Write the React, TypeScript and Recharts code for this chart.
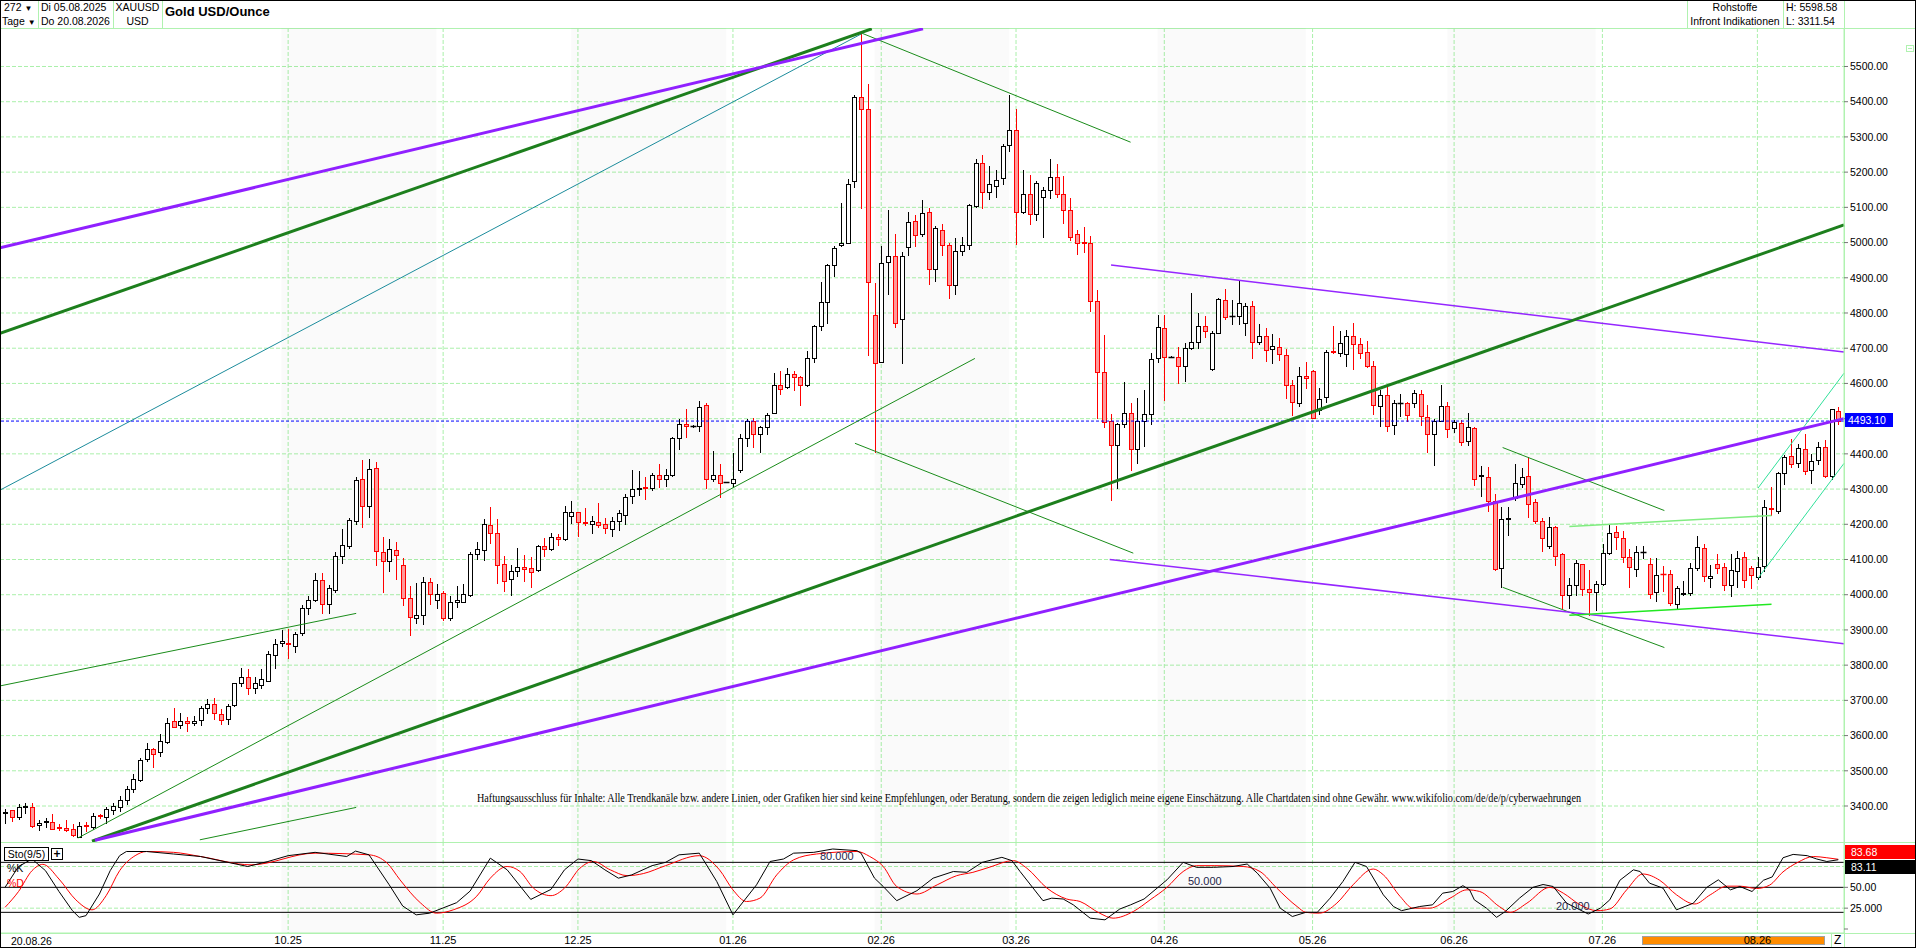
import React from "react";
import {
  ComposedChart,
  LineChart,
  Bar,
  Line,
  XAxis,
  YAxis,
  CartesianGrid,
  ReferenceLine,
  ReferenceArea,
} from "recharts";

// daily OHLC, Di 05.08.2025 .. 20.08.2026
const OPEN = [
  3380, 3388, 3369, 3398, 3398, 3346, 3356, 3355, 3341, 3338, 3334, 3313, 3345, 3340, 3374, 3369, 3389, 3398, 3417, 3449,
  3474, 3533, 3561, 3552, 3582, 3640, 3629, 3641, 3635, 3644, 3677, 3689, 3662, 3646, 3687, 3748, 3765, 3736, 3744, 3755,
  3829, 3862, 3864, 3853, 3890, 3961, 3985, 4042, 3975, 4014, 4110, 4139, 4210, 4328, 4252, 4361, 4122, 4096, 4126, 4084,
  3992, 3934, 3943, 4037, 3985, 4004, 3935, 3978, 3980, 3999, 4116, 4127, 4197, 4176, 4087, 4045, 4066, 4079, 4077, 4069,
  4137, 4130, 4163, 4157, 4224, 4234, 4207, 4200, 4207, 4201, 4187, 4210, 4225, 4281, 4299, 4305, 4302, 4339, 4328, 4339,
  4444, 4486, 4480, 4480, 4540, 4328, 4339, 4320, 4318, 4354, 4446, 4493, 4456, 4477, 4517, 4596, 4590, 4627, 4617, 4595,
  4671, 4763, 4830, 4935, 4992, 5000, 5175, 5414, 5380, 4795, 4662, 4945, 4963, 4782, 4986, 5060, 5024, 5087, 4926, 5036,
  4992, 4879, 4975, 4994, 5105, 5227, 5143, 5161, 5184, 5277, 5320, 5086, 5138, 5082, 5129, 5150, 5186, 5138, 5093, 5023,
  5001, 5000, 4833, 4633, 4492, 4425, 4485, 4515, 4413, 4492, 4513, 4671, 4756, 4676, 4674, 4649, 4700, 4718, 4764, 4640,
  4744, 4838, 4791, 4791, 4773, 4820, 4718, 4735, 4697, 4704, 4682, 4595, 4543, 4622, 4636, 4525, 4561, 4691, 4686, 4684,
  4734, 4713, 4688, 4650, 4536, 4567, 4482, 4543, 4543, 4545, 4570, 4506, 4457, 4494, 4537, 4473, 4487, 4437, 4474, 4338,
  4333, 4265, 4076, 4216, 4276, 4314, 4338, 4262, 4208, 4138, 4193, 4116, 3998, 4029, 4086, 4016, 4008, 4031, 4119, 4179,
  4162, 4108, 4073, 4121, 4088, 4007, 4060, 4059, 3973, 4003, 4004, 4076, 4133, 4048, 4088, 4079, 4027, 4067, 4108, 4076,
  4050, 4081, 4247, 4238, 4345, 4393, 4373, 4413, 4354, 4383, 4419, 4338, 4522,
];
const HIGH = [
  3392, 3390, 3407, 3409, 3408, 3359, 3367, 3376, 3348, 3359, 3348, 3355, 3355, 3381, 3378, 3397, 3408, 3428, 3457, 3490,
  3537, 3580, 3566, 3604, 3651, 3677, 3663, 3653, 3656, 3684, 3705, 3708, 3675, 3689, 3750, 3793, 3788, 3765, 3788, 3840,
  3875, 3899, 3902, 3894, 3971, 3995, 4063, 4061, 4027, 4120, 4186, 4219, 4333, 4383, 4385, 4377, 4165, 4158, 4150, 4104,
  4025, 4034, 4051, 4047, 4031, 4011, 3997, 4025, 4030, 4120, 4151, 4214, 4248, 4214, 4110, 4085, 4134, 4113, 4106, 4142,
  4161, 4176, 4172, 4253, 4265, 4234, 4245, 4223, 4261, 4218, 4220, 4241, 4286, 4354, 4351, 4333, 4347, 4372, 4358, 4449,
  4498, 4528, 4482, 4550, 4543, 4407, 4372, 4321, 4403, 4456, 4498, 4501, 4480, 4517, 4630, 4635, 4645, 4636, 4622, 4692,
  4766, 4887, 4940, 4991, 5113, 5181, 5419, 5598.58, 5451, 4884, 4991, 5092, 5024, 4972, 5087, 5078, 5120, 5099, 5047, 5052,
  5000, 5012, 5015, 5110, 5236, 5249, 5217, 5205, 5280, 5420, 5379, 5205, 5193, 5176, 5157, 5238, 5222, 5190, 5127, 5036,
  5044, 5018, 4866, 4737, 4513, 4489, 4605, 4545, 4558, 4581, 4685, 4794, 4794, 4678, 4704, 4716, 4857, 4801, 4792, 4749,
  4844, 4869, 4836, 4891, 4829, 4834, 4770, 4756, 4740, 4728, 4699, 4610, 4646, 4662, 4638, 4586, 4695, 4764, 4749, 4751,
  4773, 4728, 4720, 4664, 4581, 4591, 4553, 4570, 4548, 4581, 4581, 4539, 4498, 4595, 4548, 4496, 4496, 4517, 4477, 4365,
  4364, 4286, 4248, 4248, 4371, 4360, 4390, 4271, 4219, 4221, 4195, 4119, 4048, 4100, 4088, 4069, 4038, 4143, 4197, 4195,
  4181, 4131, 4138, 4138, 4105, 4103, 4081, 4071, 4024, 4038, 4090, 4167, 4143, 4083, 4116, 4089, 4116, 4124, 4122, 4081,
  4108, 4269, 4305, 4348, 4397, 4441, 4427, 4455, 4400, 4433, 4438, 4526, 4533,
];
const LOW = [
  3352, 3357, 3364, 3379, 3340, 3332, 3341, 3334, 3332, 3329, 3315, 3311.54, 3329, 3336, 3366, 3353, 3376, 3386, 3407, 3441,
  3471, 3528, 3512, 3542, 3578, 3623, 3622, 3613, 3629, 3629, 3665, 3648, 3632, 3634, 3684, 3741, 3717, 3722, 3736, 3755,
  3793, 3855, 3821, 3838, 3886, 3945, 3981, 3949, 3949, 4008, 4089, 4134, 4200, 4191, 4221, 4084, 4008, 4068, 4044, 3971,
  3885, 3921, 3916, 3975, 3961, 3928, 3928, 3965, 3978, 3997, 4102, 4099, 4146, 4033, 4011, 3998, 4053, 4040, 4022, 4066,
  4111, 4127, 4140, 4154, 4203, 4166, 4198, 4174, 4192, 4176, 4168, 4184, 4201, 4260, 4284, 4273, 4297, 4307, 4309, 4336,
  4414, 4449, 4477, 4464, 4304, 4323, 4278, 4319, 4309, 4349, 4423, 4420, 4406, 4456, 4517, 4570, 4587, 4582, 4538, 4593,
  4662, 4753, 4772, 4904, 4989, 4998, 5157, 5097, 4682, 4405, 4662, 4853, 4760, 4657, 4965, 4989, 5018, 4881, 4890, 4966,
  4844, 4855, 4965, 4981, 5101, 5097, 5123, 5129, 5167, 5259, 4997, 5084, 5052, 5065, 5016, 5126, 5129, 5055, 5008, 4968,
  4973, 4806, 4503, 4477, 4270, 4304, 4475, 4353, 4375, 4423, 4485, 4662, 4553, 4674, 4602, 4608, 4697, 4700, 4732, 4638,
  4742, 4784, 4770, 4768, 4737, 4671, 4713, 4663, 4659, 4666, 4558, 4510, 4536, 4586, 4503, 4513, 4548, 4687, 4678, 4650,
  4640, 4671, 4647, 4513, 4480, 4466, 4456, 4508, 4492, 4534, 4482, 4404, 4367, 4492, 4449, 4463, 4425, 4424, 4312, 4280,
  4238, 4069, 4022, 4170, 4269, 4307, 4221, 4205, 4124, 4133, 4084, 3962, 3962, 4000, 4000, 3943, 3957, 4029, 4116, 4129,
  4093, 4021, 4054, 4105, 3990, 3981, 4010, 3971, 3962, 4000, 4000, 4071, 4038, 4021, 4062, 4014, 3995, 4021, 4021, 4019,
  4046, 4067, 4227, 4233, 4314, 4362, 4364, 4343, 4316, 4370, 4333, 4329, 4484,
];
const CLOSE = [
  3382, 3370, 3398, 3400, 3343, 3353, 3358, 3336, 3337, 3333, 3317, 3343, 3342, 3372, 3371, 3392, 3400, 3417, 3447, 3478,
  3531, 3561, 3549, 3585, 3637, 3625, 3641, 3635, 3641, 3679, 3689, 3665, 3644, 3684, 3748, 3765, 3736, 3748, 3762, 3833,
  3859, 3868, 3859, 3888, 3961, 3985, 4042, 3975, 4020, 4110, 4141, 4212, 4326, 4252, 4358, 4124, 4096, 4129, 4113, 3991,
  3937, 3943, 4037, 4003, 4003, 3933, 3980, 3985, 4001, 4115, 4129, 4200, 4174, 4084, 4040, 4066, 4079, 4074, 4064, 4137,
  4129, 4163, 4158, 4236, 4234, 4206, 4205, 4208, 4199, 4190, 4210, 4231, 4278, 4299, 4304, 4302, 4339, 4328, 4339, 4446,
  4486, 4478, 4480, 4532, 4328, 4339, 4318, 4320, 4328, 4446, 4493, 4456, 4477, 4509, 4596, 4585, 4627, 4617, 4595, 4671,
  4763, 4830, 4935, 4984, 5000, 5166, 5414, 5380, 4889, 4659, 4942, 4963, 4772, 4963, 5057, 5021, 5084, 4926, 5042, 4992,
  4879, 4975, 4994, 5107, 5227, 5143, 5165, 5178, 5275, 5320, 5086, 5138, 5082, 5170, 5150, 5186, 5138, 5093, 5016, 5000,
  4999, 4833, 4633, 4490, 4424, 4485, 4515, 4413, 4492, 4513, 4668, 4759, 4676, 4676, 4649, 4702, 4718, 4764, 4748, 4742,
  4841, 4789, 4791, 4829, 4819, 4718, 4735, 4695, 4707, 4683, 4595, 4546, 4622, 4614, 4503, 4555, 4690, 4689, 4714, 4734,
  4713, 4687, 4649, 4539, 4567, 4480, 4543, 4544, 4510, 4572, 4508, 4457, 4494, 4537, 4471, 4490, 4433, 4477, 4329, 4340,
  4265, 4074, 4216, 4218, 4316, 4333, 4259, 4210, 4162, 4193, 4110, 3998, 4027, 4090, 4016, 4008, 4031, 4119, 4176, 4164,
  4108, 4079, 4122, 4122, 4002, 4055, 4059, 3976, 4019, 4004, 4076, 4136, 4052, 4052, 4076, 4027, 4071, 4105, 4042, 4056,
  4079, 4248, 4244, 4345, 4392, 4370, 4417, 4352, 4379, 4419, 4336, 4526, 4493.1,
];

const LAST_PRICE = 4493.1;
const PRICE_TICKS = [
  3400, 3500, 3600, 3700, 3800, 3900, 4000, 4100, 4200, 4300, 4400, 4500, 4600, 4700, 4800, 4900, 5000, 5100, 5200,
  5300, 5400, 5500,
];
const MONTH_IDX = [42, 65, 85, 108, 130, 150, 172, 194, 215, 237, 260];
const MONTH_LABELS = ["10.25", "11.25", "12.25", "01.26", "02.26", "03.26", "04.26", "05.26", "06.26", "07.26", "08.26"];
// shaded background bands (candle index from / to)
const SHADED_MONTHS = [
  [41, 64],
  [84, 107],
  [129, 149],
  [171, 193],
  [214, 236],
];

// trend lines, [candle index, price] pairs
const PURPLE_THICK = [
  [[-0.75, 4985], [136.2, 5607]],
  [[13.35, 3303], [272.85, 4500]],
];
const GREEN_THICK = [
  [[-0.75, 4742], [128.6, 5607]],
  [[12.9, 3300], [272.85, 5050]],
];
const TEAL_THIN = [[[-0.75, 4297], [127.2, 5594]]];
const GREEN_THIN = [
  [[10.8, 3309], [143.9, 4671]],
  [[-0.75, 3741], [52.1, 3947]],
  [[28.9, 3304], [52.1, 3396]],
  [[127.2, 5594], [167, 5285]],
  [[126.1, 4430], [167.4, 4118]],
  [[222.2, 4418], [246.2, 4239]],
  [[222.2, 4021], [246.2, 3850]],
];
const PURPLE_THIN = [
  [[164.1, 4936], [272.85, 4689]],
  [[163.9, 4100], [272.85, 3861]],
];
const LIGHT_GREEN = [[[232.1, 4194], [262.1, 4225]]];
const BRIGHT_GREEN = [[[232.1, 3942], [262.1, 3973]]];
const MINT = [
  [[260.1, 4303], [272.85, 4629]],
  [[260.1, 4047], [272.85, 4373]],
];

// Sto(9/5), [candle index, value]
const STO_K = [
  [0, 50], [2, 75], [4, 84], [6, 70], [8, 45], [10, 22], [11, 14], [12, 16], [14, 42], [15.6, 70], [17, 88], [18, 93],
  [21, 93], [25, 90], [29, 87], [36, 75], [39, 81], [42, 88], [46, 92], [50.7, 87], [52, 93.5], [54, 89], [57, 53],
  [59, 27.6], [61, 17], [63, 19], [67, 31.6], [69, 45.5], [72, 85], [74.5, 71], [78, 35.5], [81, 47.5], [83, 71],
  [85, 84], [87, 82], [89, 71], [91, 61], [93, 65], [96, 76], [98, 80], [100, 89], [103, 91], [105.6, 57], [108, 17],
  [111.5, 53], [113.5, 81], [115.5, 84], [117, 91], [120, 92], [122.8, 96], [126.4, 94], [127, 91], [129, 61],
  [130.3, 51], [132.3, 34], [135.3, 46], [137.7, 61], [140.7, 69], [142.7, 68], [145, 80], [147.9, 86], [149.4, 82],
  [150.6, 69], [154, 34], [155.3, 37], [157, 36], [158.5, 29], [161, 13], [163.2, 11], [165.4, 24], [167, 29],
  [169, 36], [172.4, 59], [174.8, 80], [176.8, 74], [179.3, 74], [182.2, 75], [184.3, 78], [185.8, 67], [187.7, 49],
  [189.2, 25], [191, 15], [193, 20], [194.7, 20], [196.6, 37], [198.5, 57], [200.3, 80], [202, 75], [204.5, 41],
  [206, 27], [207.2, 22], [209.9, 27], [211.8, 29], [213.3, 43], [214.8, 45], [216.3, 52], [217.3, 47], [218, 35],
  [219.8, 25], [221.3, 14], [222.6, 21], [224.7, 37], [226.7, 50], [228.2, 53.4], [229.7, 51], [231.7, 31],
  [234.9, 18], [236.7, 25], [238.1, 35], [239.6, 58.5], [241.6, 71], [242.6, 69], [244, 55], [246, 49], [248, 23],
  [250.5, 31], [252.5, 50], [254.2, 59], [256, 47], [257.4, 51], [259.2, 45], [260.9, 58.5], [262.2, 62.5],
  [263.8, 85.5], [265.3, 89.5], [267.4, 88], [268.8, 84], [270.3, 81], [272, 83.11],
];
const STO_D = [
  [0, 26], [2, 45], [4, 70], [5.6, 77.6], [8, 60], [10.5, 35], [12.9, 23], [15, 40], [17, 70], [19.3, 88], [21, 93],
  [25, 92], [29, 87], [36.5, 77], [46, 91], [54, 89], [56.7, 79], [58.6, 59], [61.6, 31.6], [64, 19], [66.5, 23],
  [70, 39.5], [72, 61], [74.5, 75], [76.4, 69], [78.4, 49], [81, 40], [83, 49], [85.3, 73], [87.3, 81], [89.8, 71],
  [92.3, 64], [94.7, 66.5], [98, 76], [103, 88], [106, 71], [108, 47], [110, 33], [112, 37], [114.5, 65], [117, 83],
  [120.4, 90], [126.4, 93], [128.3, 87], [130.3, 75], [132.3, 51], [135.3, 42], [138.3, 53], [141.2, 64],
  [143.6, 68], [146, 74], [149.6, 82], [151.6, 73], [154.6, 49], [157.5, 36], [159.5, 33], [162.4, 19], [164.4, 13],
  [167.4, 21], [169.9, 35], [172.4, 50], [174.8, 69], [176.8, 76], [179.5, 76], [183.7, 75], [186.2, 69],
  [188.7, 49], [191.7, 27], [193, 20], [195, 19], [197.6, 31], [200, 53], [203, 72], [204.5, 65], [207, 39],
  [208.9, 25], [211.4, 25], [214.4, 37], [216.9, 47], [218.8, 45], [221.7, 27], [223.3, 20], [225.8, 31],
  [229.2, 50], [231.2, 43], [233.7, 29], [236.2, 22], [238.1, 24], [240.6, 47], [243, 66], [245.5, 58.5], [248, 41],
  [250.7, 30], [253, 41], [255.5, 51.4], [257.4, 51.4], [259.9, 48.6], [261.8, 52.6], [263.8, 68.5], [266, 80],
  [268.3, 87], [270.3, 85.5], [272, 83.68],
];

const FONT = '"Liberation Sans", Arial, sans-serif';
const FRAME = "#b0f2b0";
const GRID = "#aaf0aa";
const X_DOMAIN: [number, number] = [-0.75, 272.85];

const candles = OPEN.map((o, i) => ({
  i,
  open: o,
  high: HIGH[i],
  low: LOW[i],
  close: CLOSE[i],
  range: [LOW[i], HIGH[i]],
}));
const kData = STO_K.map(([i, v]) => ({ i, v }));
const dData = STO_D.map(([i, v]) => ({ i, v }));

function Candle(props: any) {
  const { x, y, width, height, payload } = props;
  if (x == null || !payload) return null;
  const cx = Math.round(x + width / 2) + 0.5;
  const top = Math.min(y, y + height);
  const span = Math.abs(height);
  const { open, high, low, close } = payload;
  const k = high > low ? span / (high - low) : 0;
  const yOf = (v: number) => top + (high - v) * k;
  const up = close >= open;
  const col = up ? "#000" : "#ff0000";
  const bTop = Math.round(yOf(Math.max(open, close))) + 0.5;
  const bBot = Math.round(yOf(Math.min(open, close))) + 0.5;
  return (
    <g>
      <line x1={cx} x2={cx} y1={Math.round(top)} y2={Math.round(top + span) + 1} stroke={col} strokeWidth={1} />
      {bBot - bTop < 1 ? (
        <line x1={cx - 3} x2={cx + 3} y1={bTop} y2={bTop} stroke={col} strokeWidth={1.5} />
      ) : (
        <rect
          x={cx - 2}
          y={bTop}
          width={4}
          height={bBot - bTop}
          fill={up ? "#fff" : "#ff9a9a"}
          stroke={col}
          strokeWidth={1}
        />
      )}
    </g>
  );
}

function segs(list: number[][][], stroke: string, width: number, key: string) {
  return list.map((s, n) => (
    <ReferenceLine
      key={key + n}
      segment={[
        { x: s[0][0], y: s[0][1] },
        { x: s[1][0], y: s[1][1] },
      ]}
      stroke={stroke}
      strokeWidth={width}
      ifOverflow="visible"
    />
  ));
}

const txt: React.CSSProperties = {
  position: "absolute",
  fontFamily: FONT,
  fontSize: 10.5,
  lineHeight: "13px",
  whiteSpace: "nowrap",
  color: "#000",
};

function Header() {
  const vline = (left: number, top = 0, h = 28, c = FRAME) => (
    <div style={{ position: "absolute", left, top, width: 1, height: h, background: c }} />
  );
  return (
    <>
      <div style={{ ...txt, left: 4, top: 1 }}>
        272 <span style={{ fontSize: 8 }}>▼</span>
      </div>
      <div style={{ ...txt, left: 2, top: 15 }}>
        Tage <span style={{ fontSize: 8 }}>▼</span>
      </div>
      {vline(38)}
      <div style={{ ...txt, left: 41, top: 1 }}>Di 05.08.2025</div>
      <div style={{ ...txt, left: 41, top: 15 }}>Do 20.08.2026</div>
      {vline(113)}
      <div style={{ ...txt, left: 113, width: 49, textAlign: "center", top: 1 }}>XAUUSD</div>
      <div style={{ ...txt, left: 113, width: 49, textAlign: "center", top: 15 }}>USD</div>
      {vline(162)}
      <div style={{ ...txt, left: 165, top: 4, fontSize: 13, fontWeight: "bold", lineHeight: "16px" }}>
        Gold USD/Ounce
      </div>
      {vline(1687)}
      <div style={{ ...txt, left: 1687, width: 96, textAlign: "center", top: 1 }}>Rohstoffe</div>
      <div style={{ ...txt, left: 1687, width: 96, textAlign: "center", top: 15 }}>Infront Indikationen</div>
      {vline(1783)}
      <div style={{ ...txt, left: 1786, top: 1 }}>H: 5598.58</div>
      <div style={{ ...txt, left: 1786, top: 15 }}>L: 3311.54</div>
      {vline(1844, 0, 948)}
      <div style={{ position: "absolute", left: 0, top: 28, width: 1916, height: 1, background: FRAME }} />
      <div style={{ position: "absolute", left: 0, top: 842, width: 1916, height: 1, background: FRAME }} />
      <div style={{ position: "absolute", left: 0, top: 933, width: 1916, height: 1, background: FRAME }} />
      <div
        style={{
          position: "absolute",
          left: 1906,
          top: 45,
          width: 8,
          height: 7,
          border: `1px solid ${FRAME}`,
          boxSizing: "border-box",
        }}
      >
        <div style={{ position: "absolute", left: 1, top: 2, width: 4, height: 1, background: FRAME }} />
      </div>
    </>
  );
}

function Overlays() {
  const box = (top: number, bg: string, label: string) => (
    <div
      style={{
        ...txt,
        left: 1845,
        top,
        width: 71,
        height: 14,
        lineHeight: "14px",
        background: bg,
        color: "#fff",
        paddingLeft: 6,
        boxSizing: "border-box",
      }}
    >
      {label}
    </div>
  );
  const lvl = (left: number, cy: number, label: string) => (
    <div style={{ ...txt, left, top: cy - 6.5, color: "#26264a", fontSize: 11 }}>{label}</div>
  );
  return (
    <>
      <div
        style={{
          ...txt,
          left: 1845,
          top: 413,
          width: 48,
          height: 14,
          lineHeight: "14px",
          background: "#0000ff",
          color: "#fff",
          paddingLeft: 3,
          boxSizing: "border-box",
        }}
      >
        4493.10
      </div>
      {box(845, "#ff0000", "83.68")}
      {box(860, "#000000", "83.11")}
      <div
        style={{
          ...txt,
          left: 4,
          top: 847,
          width: 45,
          height: 14,
          lineHeight: "12px",
          border: "1px solid #000",
          background: "#fff",
          textAlign: "center",
          boxSizing: "border-box",
        }}
      >
        Sto(9/5)
      </div>
      <div
        style={{
          ...txt,
          left: 51,
          top: 848,
          width: 12,
          height: 12,
          lineHeight: "10px",
          border: "1px solid #000",
          background: "#fff",
          textAlign: "center",
          fontWeight: "bold",
          fontSize: 12,
          boxSizing: "border-box",
        }}
      >
        +
      </div>
      <div style={{ ...txt, left: 7, top: 862 }}>%K</div>
      <div style={{ ...txt, left: 7, top: 877, color: "#ff0000" }}>%D</div>
      {lvl(820, 856, "80.000")}
      {lvl(1188, 881, "50.000")}
      {lvl(1556, 906, "20.000")}
      <div style={{ ...txt, left: 11, top: 935 }}>20.08.26</div>
      <div style={{ position: "absolute", left: 1831, top: 934, width: 1, height: 14, background: FRAME }} />
      <div style={{ ...txt, left: 1834, top: 934, fontSize: 12 }}>Z</div>
      <svg
        width={1916}
        height={948}
        style={{ position: "absolute", left: 0, top: 0, pointerEvents: "none" }}
      >
        <text
          x={477}
          y={802}
          textLength={1104}
          lengthAdjust="spacingAndGlyphs"
          fontFamily='"Liberation Serif", "Times New Roman", serif'
          fontSize={12}
          fill="#000"
        >
          Haftungsausschluss für Inhalte: Alle Trendkanäle bzw. andere Linien, oder Grafiken hier sind keine
          Empfehlungen, oder Beratung, sondern die zeigen lediglich meine eigene Einschätzung. Alle Chartdaten sind ohne
          Gewähr. www.wikifolio.com/de/de/p/cyberwaehrungen
        </text>
      </svg>
      <div
        style={{
          position: "absolute",
          left: 0,
          top: 0,
          width: 1916,
          height: 948,
          border: "1px solid #000",
          boxSizing: "border-box",
          pointerEvents: "none",
        }}
      />
    </>
  );
}

export default function App() {
  return (
    <div
      style={{
        position: "absolute",
        left: 0,
        top: 0,
        width: 1916,
        height: 948,
        background: "#fff",
        overflow: "hidden",
        fontFamily: FONT,
      }}
    >
      {/* orange range bar sits under the x-axis labels */}
      <div
        style={{
          position: "absolute",
          left: 1642,
          top: 936,
          width: 183,
          height: 9,
          background: "#ff8c00",
          border: "1px solid #a0a0a0",
          boxSizing: "border-box",
        }}
      />
      <Header />

      <div style={{ position: "absolute", left: 0, top: 28 }}>
        <ComposedChart width={1916} height={814} data={candles} margin={{ top: 0, right: 0, bottom: 0, left: 0 }}>
          {SHADED_MONTHS.map(([a, b]) => (
            <ReferenceArea key={a} x1={a} x2={b} fill="#000" fillOpacity={0.02} stroke="none" ifOverflow="visible" />
          ))}
          <CartesianGrid
            stroke={GRID}
            strokeDasharray="4 2"
            horizontalValues={PRICE_TICKS}
            verticalValues={MONTH_IDX}
          />
          <XAxis
            type="number"
            dataKey="i"
            domain={X_DOMAIN}
            allowDataOverflow
            ticks={MONTH_IDX}
            hide
          />
          <YAxis
            orientation="right"
            width={72}
            domain={[3297.8, 5609.3]}
            allowDataOverflow
            ticks={PRICE_TICKS}
            interval={0}
            tickFormatter={(v: number) => v.toFixed(2)}
            tick={{ fill: "#000", fontSize: 10.5, fontFamily: FONT }}
            tickSize={4}
            tickMargin={2}
            tickLine={{ stroke: "#777" }}
            axisLine={{ stroke: FRAME }}
          />
          <Bar dataKey="range" barSize={5} shape={<Candle />} isAnimationActive={false} />
          <ReferenceLine y={LAST_PRICE} stroke="#0000ff" strokeDasharray="3 2" strokeWidth={1} />
          {segs(TEAL_THIN, "#1c8c9c", 1, "t")}
          {segs(GREEN_THIN, "#1a8c1a", 1, "g")}
          {segs(PURPLE_THIN, "#9526ff", 1.5, "pt")}
          {segs(LIGHT_GREEN, "#80ec80", 1.5, "lg")}
          {segs(BRIGHT_GREEN, "#22e822", 1.5, "bg")}
          {segs(MINT, "#30e09a", 1, "m")}
          {segs(GREEN_THICK, "#1d7f1d", 3, "G")}
          {segs(PURPLE_THICK, "#9020ff", 3, "P")}
        </ComposedChart>
      </div>

      <div style={{ position: "absolute", left: 0, top: 842 }}>
        <LineChart width={1916} height={106} margin={{ top: 0, right: 0, bottom: 0, left: 0 }}>
          {SHADED_MONTHS.map(([a, b]) => (
            <ReferenceArea key={a} x1={a} x2={b} fill="#000" fillOpacity={0.02} stroke="none" ifOverflow="visible" />
          ))}
          <CartesianGrid stroke={GRID} strokeDasharray="4 2" horizontalValues={[25, 75]} verticalValues={MONTH_IDX} />
          <XAxis
            type="number"
            dataKey="i"
            domain={X_DOMAIN}
            allowDataOverflow
            ticks={MONTH_IDX}
            interval={0}
            tickFormatter={(v: number) => MONTH_LABELS[MONTH_IDX.indexOf(v)] ?? ""}
            tick={{ fill: "#000", fontSize: 11, fontFamily: FONT }}
            tickLine={false}
            tickSize={0}
            tickMargin={3}
            height={15}
            axisLine={{ stroke: FRAME }}
          />
          <YAxis
            orientation="right"
            width={72}
            domain={[-4.8, 104.4]}
            allowDataOverflow
            ticks={[0, 25, 50]}
            interval={0}
            tickFormatter={(v: number) => (v === 50 ? "50.00" : v === 25 ? "25.000" : "")}
            tick={{ fill: "#000", fontSize: 10.5, fontFamily: FONT }}
            tickSize={4}
            tickMargin={2}
            tickLine={{ stroke: "#777" }}
            axisLine={{ stroke: FRAME }}
          />
          <ReferenceLine y={80} stroke="#000" />
          <ReferenceLine y={50} stroke="#000" />
          <ReferenceLine y={20} stroke="#000" />
          <Line data={dData} dataKey="v" type="monotone" stroke="#ff0000" strokeWidth={1} dot={false} isAnimationActive={false} />
          <Line data={kData} dataKey="v" type="linear" stroke="#000" strokeWidth={1} dot={false} isAnimationActive={false} />
        </LineChart>
      </div>

      <Overlays />
    </div>
  );
}
